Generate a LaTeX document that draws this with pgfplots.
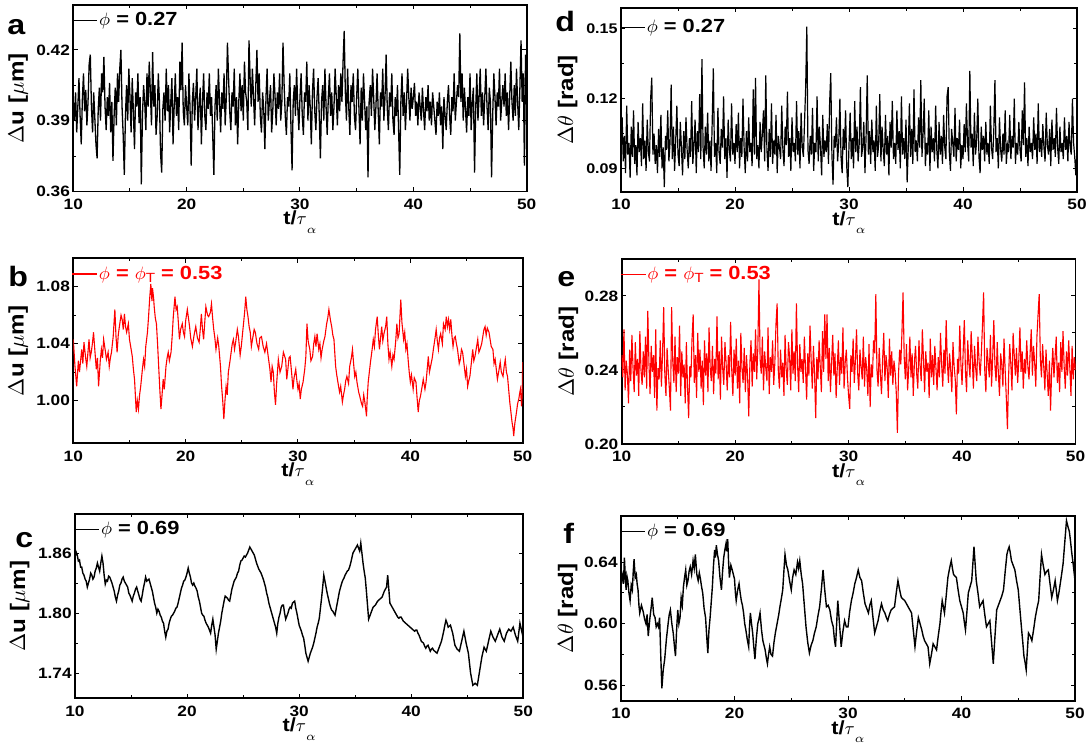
\documentclass[border=0pt]{standalone}
\usepackage{pgfplots}
\pgfplotsset{compat=1.18}
\usepackage{pgfplotstable}
\usepackage{fontspec}
\setmainfont{Liberation Sans}[FakeStretch=1.15]
\newcommand\ticksz{\fontsize{7.5}{8}\selectfont\bfseries}
\newcommand\labsz{\fontsize{9.5}{10}\selectfont\bfseries}
\newcommand\ylabsz{\fontsize{10.5}{11}\selectfont\bfseries}
\newcommand\legsz{\fontsize{9.5}{10}\selectfont\bfseries}
\newcommand\letsz{\fontsize{14}{14}\selectfont\bfseries}
\pgfplotsset{
  panel/.style={
    scale only axis, anchor=south west, clip mode=individual,
    xmin=10, xmax=50,
    xtick={10,20,30,40,50}, xticklabels={10,20,30,40,50},
    minor x tick num=1, minor y tick num=1,
    tick align=inside,
    major tick length=2.2pt, minor tick length=1.6pt,
    every tick/.append style={black, line width=0.5pt},
    axis line style={line width=0.9pt},
    tick label style={font=\ticksz},
    xticklabel style={inner sep=0pt, anchor=north, yshift=-3.5pt},
    yticklabel style={inner sep=0pt, anchor=east, xshift=-1.5pt},
    every axis x label/.style={at={([yshift=-9.6pt]axis description cs:0.5,0)}, anchor=north, inner sep=0pt, font=\labsz},
    every axis y label/.style={at={([xshift=-22.5pt]axis description cs:0,0.5)}, rotate=90, anchor=south, inner sep=0pt, font=\ylabsz},
    xlabel={t/$\tau$\raisebox{-4.2pt}{\fontsize{6}{6}\selectfont$\alpha$}},
    legend image code/.code={\draw[##1] (0pt,0pt) -- (12.5pt,0pt);},
    legend style={at={([yshift=-3.2pt,xshift=-0.8pt]axis description cs:0,1)}, anchor=north west, draw=none, fill=none, inner sep=0pt, outer sep=0pt, font=\legsz, nodes={inner sep=0.6pt}},
    legend cell align=left,
  },
}
\pgfplotstableread{
y
0.398
0.390
0.402
0.385
0.396
0.408
0.392
0.380
0.399
0.410
0.394
0.403
0.388
0.398
0.414
0.418
0.396
0.385
0.402
0.391
0.380
0.374
0.395
0.404
0.390
0.410
0.402
0.417
0.396
0.386
0.400
0.392
0.406
0.385
0.398
0.373
0.392
0.404
0.388
0.410
0.398
0.412
0.420
0.396
0.384
0.367
0.392
0.405
0.390
0.412
0.400
0.385
0.408
0.394
0.378
0.402
0.396
0.410
0.389
0.400
0.363
0.392
0.405
0.398
0.386
0.410
0.396
0.415
0.402
0.388
0.419
0.396
0.405
0.384
0.392
0.410
0.398
0.376
0.368
0.395
0.402
0.390
0.412
0.394
0.405
0.385
0.398
0.408
0.380
0.396
0.410
0.392
0.400
0.386
0.415
0.403
0.423
0.394
0.388
0.405
0.396
0.388
0.410
0.395
0.371
0.398
0.406
0.390
0.400
0.412
0.386
0.396
0.404
0.380
0.398
0.410
0.392
0.386
0.402
0.395
0.410
0.392
0.400
0.384
0.367
0.396
0.405
0.390
0.412
0.398
0.385
0.402
0.395
0.410
0.388
0.400
0.423
0.408
0.394
0.386
0.402
0.396
0.412
0.388
0.400
0.380
0.398
0.410
0.394
0.405
0.390
0.415
0.402
0.398
0.386
0.424
0.408
0.396
0.412
0.400
0.388
0.405
0.420
0.398
0.410
0.392
0.385
0.402
0.395
0.378
0.400
0.412
0.390
0.398
0.405
0.385
0.394
0.410
0.400
0.388
0.402
0.395
0.410
0.390
0.398
0.423
0.405
0.392
0.384
0.400
0.396
0.410
0.388
0.369
0.398
0.405
0.392
0.412
0.396
0.386
0.400
0.410
0.392
0.384
0.402
0.398
0.415
0.390
0.405
0.396
0.380
0.402
0.412
0.394
0.386
0.400
0.408
0.392
0.374
0.398
0.405
0.390
0.412
0.396
0.384
0.400
0.410
0.392
0.402
0.386
0.396
0.412
0.400
0.388
0.405
0.394
0.410
0.398
0.415
0.428
0.402
0.390
0.412
0.396
0.384
0.405
0.398
0.410
0.392
0.386
0.400
0.412
0.395
0.380
0.404
0.390
0.410
0.398
0.386
0.396
0.366
0.398
0.405
0.392
0.412
0.400
0.386
0.396
0.410
0.394
0.380
0.402
0.396
0.412
0.390
0.400
0.418
0.395
0.386
0.402
0.396
0.410
0.390
0.384
0.400
0.392
0.405
0.386
0.367
0.398
0.410
0.392
0.402
0.386
0.398
0.412
0.400
0.390
0.404
0.395
0.400
0.406
0.392
0.398
0.388
0.402
0.396
0.390
0.404
0.394
0.386
0.400
0.394
0.405
0.390
0.398
0.388
0.402
0.396
0.390
0.384
0.398
0.392
0.402
0.388
0.396
0.378
0.400
0.392
0.386
0.398
0.405
0.392
0.384
0.400
0.394
0.410
0.390
0.398
0.405
0.400
0.427
0.398
0.410
0.390
0.404
0.395
0.385
0.400
0.392
0.410
0.386
0.398
0.404
0.368
0.395
0.410
0.390
0.400
0.412
0.392
0.402
0.388
0.400
0.412
0.396
0.386
0.404
0.398
0.366
0.392
0.410
0.400
0.388
0.402
0.396
0.412
0.390
0.398
0.405
0.396
0.410
0.392
0.402
0.386
0.400
0.415
0.398
0.390
0.405
0.392
0.412
0.398
0.386
0.404
0.424
0.398
0.410
0.371
0.418
0.396
}\dataA
\pgfplotstableread{
y
0.098
0.112
0.093
0.104
0.088
0.117
0.096
0.101
0.086
0.108
0.095
0.115
0.092
0.100
0.087
0.110
0.097
0.103
0.091
0.118
0.094
0.102
0.089
0.111
0.097
0.093
0.120
0.129
0.096
0.105
0.092
0.100
0.088
0.107
0.095
0.113
0.090
0.099
0.082
0.104
0.098
0.115
0.093
0.101
0.126
0.094
0.108
0.089
0.102
0.117
0.096
0.091
0.110
0.099
0.087
0.106
0.094
0.112
0.098
0.090
0.103
0.095
0.119
0.092
0.100
0.111
0.088
0.106
0.097
0.122
0.094
0.137
0.099
0.090
0.108
0.096
0.114
0.093
0.102
0.089
0.110
0.133
0.095
0.101
0.088
0.116
0.097
0.092
0.107
0.099
0.121
0.094
0.103
0.086
0.111
0.098
0.093
0.118
0.096
0.101
0.092
0.109
0.097
0.114
0.090
0.103
0.095
0.120
0.099
0.088
0.106
0.093
0.112
0.097
0.101
0.091
0.124
0.096
0.129
0.094
0.100
0.090
0.110
0.097
0.105
0.115
0.093
0.130
0.098
0.089
0.107
0.095
0.118
0.092
0.102
0.096
0.113
0.088
0.104
0.099
0.094
0.117
0.098
0.091
0.108
0.100
0.123
0.095
0.103
0.089
0.112
0.097
0.101
0.093
0.119
0.096
0.106
0.090
0.114
0.099
0.095
0.110
0.125
0.151
0.098
0.092
0.104
0.096
0.116
0.089
0.101
0.097
0.121
0.093
0.108
0.099
0.087
0.113
0.095
0.102
0.097
0.109
0.092
0.118
0.131
0.096
0.083
0.104
0.099
0.112
0.093
0.101
0.120
0.095
0.088
0.107
0.098
0.115
0.091
0.082
0.100
0.114
0.094
0.103
0.090
0.119
0.097
0.108
0.093
0.101
0.125
0.095
0.099
0.110
0.088
0.104
0.130
0.096
0.106
0.092
0.111
0.097
0.102
0.089
0.117
0.095
0.100
0.122
0.093
0.108
0.098
0.091
0.113
0.096
0.104
0.087
0.110
0.099
0.119
0.094
0.101
0.092
0.115
0.098
0.106
0.090
0.121
0.096
0.103
0.094
0.111
0.084
0.099
0.118
0.095
0.107
0.092
0.124
0.097
0.102
0.093
0.112
0.099
0.128
0.095
0.105
0.120
0.091
0.101
0.096
0.115
0.089
0.108
0.097
0.103
0.093
0.117
0.098
0.090
0.110
0.096
0.104
0.092
0.113
0.099
0.094
0.121
0.125
0.097
0.089
0.107
0.101
0.095
0.116
0.093
0.103
0.098
0.111
0.090
0.100
0.094
0.109
0.097
0.118
0.101
0.093
0.132
0.099
0.105
0.091
0.114
0.096
0.102
0.120
0.095
0.088
0.108
0.098
0.104
0.093
0.110
0.096
0.101
0.092
0.117
0.099
0.094
0.106
0.128
0.097
0.103
0.090
0.112
0.098
0.093
0.105
0.096
0.115
0.092
0.100
0.097
0.113
0.094
0.104
0.099
0.120
0.092
0.101
0.096
0.110
0.098
0.093
0.115
0.100
0.127
0.095
0.103
0.091
0.108
0.097
0.101
0.094
0.112
0.098
0.105
0.092
0.118
0.097
0.103
0.095
0.109
0.099
0.093
0.114
0.100
0.096
0.107
0.091
0.111
0.098
0.103
0.095
0.116
0.099
0.092
0.108
0.097
0.101
0.094
0.112
0.098
0.104
0.093
0.110
0.099
0.096
0.120
0.101
0.095
0.087
0.098
}\dataD
\pgfplotstableread{
y
0.248
0.236
0.262
0.229
0.245
0.238
0.222
0.251
0.234
0.259
0.241
0.228
0.255
0.237
0.246
0.226
0.261
0.240
0.232
0.250
0.236
0.258
0.230
0.272
0.244
0.227
0.253
0.239
0.248
0.225
0.262
0.218
0.241
0.235
0.256
0.231
0.249
0.274
0.238
0.226
0.252
0.240
0.230
0.218
0.274
0.245
0.233
0.258
0.228
0.247
0.238
0.264
0.226
0.250
0.236
0.243
0.222
0.255
0.231
0.214
0.242
0.236
0.257
0.270
0.233
0.248
0.225
0.260
0.239
0.251
0.230
0.245
0.221
0.256
0.237
0.249
0.228
0.263
0.241
0.234
0.253
0.227
0.246
0.238
0.269
0.235
0.250
0.224
0.258
0.241
0.232
0.255
0.244
0.229
0.248
0.236
0.266
0.240
0.226
0.251
0.237
0.257
0.230
0.245
0.222
0.260
0.241
0.233
0.252
0.228
0.248
0.236
0.215
0.244
0.256
0.231
0.249
0.239
0.262
0.235
0.252
0.289
0.246
0.238
0.258
0.229
0.250
0.241
0.234
0.263
0.227
0.247
0.239
0.256
0.232
0.244
0.265
0.276
0.240
0.230
0.251
0.236
0.244
0.226
0.259
0.240
0.232
0.255
0.247
0.229
0.262
0.238
0.250
0.234
0.276
0.243
0.228
0.254
0.239
0.246
0.233
0.258
0.241
0.224
0.249
0.237
0.264
0.245
0.230
0.253
0.238
0.214
0.247
0.235
0.256
0.242
0.228
0.261
0.239
0.270
0.246
0.270
0.234
0.252
0.228
0.244
0.259
0.237
0.249
0.225
0.241
0.256
0.232
0.247
0.238
0.263
0.230
0.244
0.251
0.236
0.226
0.219
0.248
0.239
0.257
0.233
0.245
0.262
0.238
0.229
0.251
0.242
0.235
0.258
0.231
0.247
0.240
0.226
0.254
0.220
0.243
0.236
0.256
0.249
0.281
0.240
0.231
0.252
0.238
0.227
0.246
0.260
0.234
0.248
0.241
0.225
0.257
0.237
0.250
0.232
0.245
0.239
0.228
0.206
0.238
0.251
0.243
0.260
0.282
0.247
0.235
0.254
0.229
0.241
0.258
0.236
0.249
0.226
0.244
0.253
0.238
0.230
0.256
0.242
0.234
0.262
0.246
0.228
0.250
0.239
0.244
0.225
0.257
0.236
0.248
0.232
0.253
0.241
0.229
0.247
0.236
0.260
0.243
0.231
0.251
0.238
0.267
0.245
0.233
0.249
0.240
0.228
0.255
0.242
0.235
0.216
0.246
0.238
0.264
0.243
0.232
0.250
0.267
0.239
0.228
0.256
0.244
0.236
0.261
0.247
0.230
0.253
0.241
0.234
0.258
0.245
0.237
0.249
0.264
0.282
0.240
0.228
0.252
0.244
0.236
0.259
0.231
0.247
0.267
0.242
0.234
0.255
0.238
0.226
0.249
0.243
0.231
0.257
0.240
0.225
0.208
0.236
0.254
0.243
0.229
0.260
0.248
0.237
0.252
0.233
0.245
0.263
0.239
0.250
0.230
0.246
0.238
0.256
0.242
0.235
0.249
0.262
0.237
0.253
0.244
0.231
0.258
0.270
0.281
0.246
0.236
0.254
0.242
0.229
0.251
0.238
0.226
0.245
0.218
0.240
0.252
0.236
0.247
0.258
0.233
0.244
0.228
0.255
0.239
0.261
0.242
0.230
0.250
0.237
0.256
0.241
0.226
0.253
0.235
0.247
0.240
}\dataE
\begin{document}
\begin{tikzpicture}
\useasboundingbox (0,0) rectangle (543.5pt,375pt);
% ---------- a ----------
\begin{axis}[panel, at={(36.65pt,279.25pt)}, width=226.7pt, height=93.25pt,
  ymin=0.36, ymax=0.439, ytick={0.36,0.39,0.42}, yticklabels={0.36,0.39,0.42},
  ylabel={$\Delta$u [$\mu$m]}]
\addplot[black, line width=0.65pt] table[x expr=10+0.1*\coordindex, y=y] {\dataA};
\addlegendentry{$\phi$ = 0.27}
\node[anchor=base west, inner sep=0pt, font=\letsz] at ([xshift=-33.15pt,yshift=-15pt]axis description cs:0,1) {a};
\end{axis}
% ---------- b ----------
\begin{axis}[panel, at={(36.65pt,153.35pt)}, width=224.7pt, height=92.5pt,
  ymin=0.97, ymax=1.10, ytick={1.00,1.04,1.08}, yticklabels={1.00,1.04,1.08},
  ylabel={$\Delta$u [$\mu$m]}, legend style={text=red}]
\addplot[red, line width=0.55pt] coordinates {
(10.0,1.043) (10.15,1.024) (10.3,1.010) (10.45,1.028) (10.55,1.020) (10.75,1.036) (10.85,1.026) (10.95,1.041) (11.1,1.030) (11.2,1.024) (11.4,1.043) (11.5,1.030) (11.6,1.034) (11.7,1.040) (11.8,1.048) (11.95,1.032) (12.05,1.022) (12.15,1.030) (12.25,1.010) (12.4,1.028) (12.5,1.036) (12.6,1.030) (12.7,1.043) (12.85,1.035) (12.95,1.029) (13.1,1.034) (13.2,1.024) (13.3,1.030) (13.4,1.034) (13.55,1.045) (13.7,1.064) (13.8,1.045) (13.9,1.034) (14.0,1.046) (14.1,1.052) (14.25,1.060) (14.35,1.057) (14.45,1.050) (14.55,1.061) (14.65,1.052) (14.75,1.048) (14.9,1.054) (15.0,1.043) (15.15,1.036) (15.25,1.031) (15.35,1.022) (15.45,1.015) (15.55,1.000) (15.6,0.992) (15.7,1.000) (15.8,0.994) (15.9,1.004) (16.0,1.010) (16.15,1.022) (16.25,1.029) (16.35,1.024) (16.45,1.038) (16.6,1.048) (16.7,1.059) (16.8,1.072) (16.9,1.082) (17.0,1.070) (17.05,1.079) (17.15,1.072) (17.2,1.066) (17.3,1.058) (17.4,1.054) (17.5,1.040) (17.6,1.024) (17.7,1.008) (17.8,0.994) (17.9,1.004) (18.0,1.015) (18.1,1.008) (18.25,1.024) (18.35,1.030) (18.45,1.034) (18.55,1.028) (18.7,1.034) (18.8,1.045) (18.9,1.059) (19.05,1.073) (19.15,1.064) (19.25,1.066) (19.35,1.055) (19.45,1.043) (19.55,1.050) (19.7,1.054) (19.8,1.048) (19.9,1.045) (20.0,1.056) (20.15,1.064) (20.25,1.058) (20.35,1.052) (20.45,1.044) (20.6,1.038) (20.75,1.046) (20.9,1.052) (21.05,1.044) (21.2,1.041) (21.3,1.050) (21.4,1.061) (21.5,1.050) (21.6,1.043) (21.7,1.055) (21.8,1.066) (21.95,1.060) (22.05,1.059) (22.2,1.062) (22.3,1.068) (22.4,1.058) (22.5,1.050) (22.6,1.044) (22.7,1.036) (22.85,1.044) (22.95,1.038) (23.1,1.024) (23.2,1.010) (23.3,1.000) (23.4,0.987) (23.5,1.000) (23.6,1.010) (23.7,1.004) (23.8,1.020) (23.95,1.028) (24.05,1.034) (24.15,1.040) (24.25,1.043) (24.35,1.036) (24.45,1.041) (24.6,1.050) (24.7,1.045) (24.85,1.032) (24.95,1.038) (25.05,1.046) (25.15,1.054) (25.25,1.062) (25.35,1.073) (25.45,1.064) (25.55,1.059) (25.65,1.052) (25.75,1.048) (25.85,1.038) (25.95,1.043) (26.1,1.050) (26.2,1.048) (26.35,1.040) (26.5,1.036) (26.6,1.044) (26.75,1.045) (26.9,1.038) (27.05,1.034) (27.2,1.040) (27.35,1.031) (27.5,1.022) (27.6,1.013) (27.7,1.024) (27.8,1.020) (27.9,1.006) (28.0,0.997) (28.1,1.012) (28.25,1.029) (28.4,1.020) (28.55,1.024) (28.7,1.034) (28.9,1.029) (29.0,1.015) (29.1,1.022) (29.2,1.030) (29.3,1.031) (29.45,1.018) (29.55,1.008) (29.65,1.016) (29.8,1.022) (29.9,1.014) (30.0,1.008) (30.1,1.012) (30.2,1.001) (30.3,1.008) (30.45,1.013) (30.6,1.022) (30.7,1.031) (30.8,1.054) (30.9,1.042) (31.05,1.036) (31.15,1.028) (31.3,1.031) (31.4,1.040) (31.5,1.045) (31.6,1.038) (31.7,1.047) (31.85,1.036) (31.95,1.040) (32.05,1.030) (32.15,1.036) (32.3,1.042) (32.4,1.045) (32.55,1.054) (32.65,1.058) (32.75,1.064) (32.9,1.056) (33.0,1.052) (33.1,1.046) (33.2,1.043) (33.35,1.024) (33.45,1.018) (33.55,1.013) (33.7,1.006) (33.8,1.010) (33.95,0.999) (34.05,1.004) (34.15,1.008) (34.25,1.014) (34.35,1.017) (34.5,1.012) (34.6,1.024) (34.75,1.030) (34.85,1.036) (34.95,1.026) (35.05,1.017) (35.15,1.020) (35.25,1.013) (35.4,1.006) (35.5,1.003) (35.65,0.998) (35.75,0.996) (35.85,1.004) (35.95,0.999) (36.1,0.989) (36.15,1.000) (36.25,1.013) (36.35,1.020) (36.45,1.027) (36.6,1.036) (36.7,1.043) (36.8,1.038) (36.9,1.050) (37.05,1.059) (37.15,1.046) (37.25,1.036) (37.35,1.044) (37.45,1.052) (37.55,1.042) (37.65,1.047) (37.8,1.052) (37.9,1.059) (38.0,1.040) (38.1,1.029) (38.2,1.034) (38.35,1.024) (38.45,1.032) (38.55,1.029) (38.7,1.042) (38.8,1.054) (38.9,1.044) (39.0,1.047) (39.15,1.071) (39.25,1.055) (39.4,1.043) (39.5,1.048) (39.6,1.036) (39.7,1.040) (39.8,1.029) (39.9,1.020) (40.0,1.013) (40.1,1.018) (40.25,1.008) (40.35,1.016) (40.5,1.013) (40.6,1.002) (40.7,0.992) (40.8,1.000) (40.9,1.003) (41.05,1.010) (41.15,1.015) (41.3,1.008) (41.4,1.013) (41.5,1.022) (41.6,1.031) (41.7,1.020) (41.8,1.024) (41.95,1.030) (42.05,1.036) (42.2,1.044) (42.3,1.050) (42.4,1.042) (42.5,1.036) (42.6,1.044) (42.7,1.047) (42.85,1.040) (42.95,1.054) (43.1,1.050) (43.2,1.059) (43.3,1.052) (43.4,1.057) (43.5,1.050) (43.6,1.057) (43.7,1.046) (43.8,1.038) (43.9,1.044) (44.0,1.045) (44.1,1.040) (44.2,1.036) (44.35,1.026) (44.45,1.029) (44.55,1.036) (44.65,1.034) (44.8,1.024) (44.9,1.017) (45.0,1.022) (45.1,1.010) (45.2,1.014) (45.3,1.017) (45.45,1.028) (45.55,1.036) (45.65,1.028) (45.75,1.031) (45.9,1.038) (46.0,1.043) (46.1,1.034) (46.2,1.036) (46.35,1.040) (46.45,1.045) (46.55,1.050) (46.65,1.052) (46.75,1.046) (46.85,1.051) (47.0,1.048) (47.1,1.043) (47.2,1.038) (47.35,1.036) (47.45,1.026) (47.55,1.029) (47.65,1.022) (47.75,1.015) (47.9,1.022) (48.0,1.027) (48.1,1.020) (48.25,1.017) (48.35,1.024) (48.45,1.029) (48.55,1.020) (48.65,1.017) (48.75,1.008) (48.85,0.999) (48.95,0.992) (49.05,0.985) (49.15,0.980) (49.2,0.975) (49.3,0.984) (49.45,0.992) (49.55,0.998) (49.65,1.001) (49.75,1.006) (49.8,1.008) (49.9,0.996) (49.95,1.004) (50.0,1.027)};
\addlegendentry{$\phi$ = $\phi_{\mathrm{T}}$ = 0.53}
\node[anchor=base west, inner sep=0pt, font=\letsz] at ([xshift=-32.65pt,yshift=-14.35pt]axis description cs:0,1) {b};
\end{axis}
% ---------- c ----------
\begin{axis}[panel, at={(37.5pt,25.85pt)}, width=224.15pt, height=92.15pt,
  ymin=1.715, ymax=1.899, ytick={1.74,1.80,1.86}, yticklabels={1.74,1.80,1.86},
  ylabel={$\Delta$u [$\mu$m]}]
\addplot[black, line width=0.7pt] coordinates {
(10.0,1.856) (10.1,1.861) (10.2,1.858) (10.3,1.852) (10.4,1.853) (10.5,1.846) (10.6,1.846) (10.7,1.840) (10.8,1.838) (10.9,1.834) (11.0,1.832) (11.1,1.826) (11.2,1.830) (11.3,1.834) (11.4,1.840) (11.5,1.838) (11.6,1.834) (11.7,1.836) (11.8,1.842) (11.9,1.845) (12.0,1.850) (12.1,1.846) (12.2,1.842) (12.3,1.850) (12.4,1.857) (12.5,1.850) (12.6,1.838) (12.7,1.829) (12.8,1.833) (12.9,1.832) (13.0,1.837) (13.1,1.836) (13.2,1.833) (13.3,1.830) (13.4,1.826) (13.5,1.822) (13.6,1.816) (13.7,1.812) (13.8,1.818) (13.9,1.822) (14.0,1.828) (14.1,1.830) (14.2,1.834) (14.3,1.836) (14.4,1.832) (14.5,1.830) (14.6,1.828) (14.7,1.826) (14.8,1.820) (14.9,1.818) (15.0,1.815) (15.1,1.812) (15.2,1.817) (15.3,1.820) (15.4,1.824) (15.5,1.826) (15.6,1.822) (15.7,1.818) (15.8,1.814) (15.9,1.812) (16.0,1.818) (16.1,1.825) (16.2,1.830) (16.3,1.836) (16.4,1.832) (16.5,1.833) (16.6,1.834) (16.7,1.830) (16.8,1.826) (16.9,1.822) (17.0,1.816) (17.1,1.810) (17.2,1.806) (17.3,1.800) (17.4,1.804) (17.5,1.802) (17.6,1.798) (17.7,1.796) (17.8,1.792) (17.9,1.790) (18.0,1.782) (18.1,1.776) (18.2,1.782) (18.3,1.784) (18.4,1.790) (18.5,1.794) (18.6,1.797) (18.7,1.798) (18.8,1.800) (18.9,1.802) (19.0,1.805) (19.1,1.806) (19.2,1.810) (19.3,1.815) (19.4,1.820) (19.5,1.825) (19.6,1.828) (19.7,1.832) (19.8,1.833) (19.9,1.836) (20.0,1.840) (20.1,1.845) (20.2,1.840) (20.3,1.836) (20.4,1.830) (20.5,1.828) (20.6,1.830) (20.7,1.827) (20.8,1.825) (20.9,1.822) (21.0,1.816) (21.1,1.812) (21.2,1.806) (21.3,1.800) (21.4,1.798) (21.5,1.797) (21.6,1.793) (21.7,1.790) (21.8,1.788) (21.9,1.786) (22.0,1.783) (22.1,1.780) (22.2,1.788) (22.3,1.794) (22.4,1.786) (22.5,1.778) (22.6,1.764) (22.7,1.772) (22.8,1.780) (22.9,1.786) (23.0,1.792) (23.1,1.800) (23.2,1.806) (23.3,1.812) (23.4,1.817) (23.5,1.816) (23.6,1.815) (23.7,1.813) (23.8,1.812) (23.9,1.818) (24.0,1.824) (24.1,1.828) (24.2,1.832) (24.3,1.834) (24.4,1.836) (24.5,1.840) (24.6,1.842) (24.7,1.848) (24.8,1.852) (24.9,1.853) (25.0,1.855) (25.1,1.857) (25.2,1.856) (25.3,1.858) (25.4,1.860) (25.5,1.863) (25.6,1.866) (25.7,1.864) (25.8,1.862) (25.9,1.860) (26.0,1.858) (26.1,1.854) (26.2,1.850) (26.3,1.847) (26.4,1.844) (26.5,1.842) (26.6,1.840) (26.7,1.837) (26.8,1.834) (26.9,1.830) (27.0,1.826) (27.1,1.820) (27.2,1.816) (27.3,1.810) (27.4,1.806) (27.5,1.802) (27.6,1.798) (27.7,1.794) (27.8,1.790) (27.9,1.786) (28.0,1.780) (28.1,1.790) (28.2,1.796) (28.3,1.800) (28.4,1.806) (28.5,1.808) (28.6,1.808) (28.7,1.800) (28.8,1.794) (28.9,1.797) (29.0,1.800) (29.1,1.804) (29.2,1.806) (29.3,1.805) (29.4,1.810) (29.5,1.811) (29.6,1.812) (29.7,1.805) (29.8,1.800) (29.9,1.794) (30.0,1.788) (30.1,1.785) (30.2,1.782) (30.3,1.778) (30.4,1.775) (30.5,1.768) (30.6,1.760) (30.7,1.756) (30.8,1.752) (30.9,1.756) (31.0,1.760) (31.1,1.763) (31.2,1.766) (31.3,1.770) (31.4,1.775) (31.5,1.780) (31.6,1.786) (31.7,1.790) (31.8,1.795) (31.9,1.805) (32.0,1.815) (32.1,1.826) (32.2,1.838) (32.3,1.832) (32.4,1.826) (32.5,1.820) (32.6,1.815) (32.7,1.810) (32.8,1.806) (32.9,1.803) (33.0,1.802) (33.1,1.800) (33.2,1.798) (33.3,1.804) (33.4,1.810) (33.5,1.816) (33.6,1.822) (33.7,1.826) (33.8,1.830) (33.9,1.833) (34.0,1.835) (34.1,1.838) (34.2,1.840) (34.3,1.842) (34.4,1.843) (34.5,1.846) (34.6,1.850) (34.7,1.855) (34.8,1.860) (34.9,1.862) (35.0,1.864) (35.1,1.866) (35.2,1.868) (35.3,1.865) (35.4,1.862) (35.5,1.870) (35.6,1.860) (35.7,1.850) (35.8,1.842) (35.9,1.835) (36.0,1.822) (36.1,1.808) (36.2,1.794) (36.3,1.797) (36.4,1.800) (36.5,1.803) (36.6,1.806) (36.7,1.807) (36.8,1.808) (36.9,1.810) (37.0,1.812) (37.1,1.813) (37.2,1.814) (37.3,1.815) (37.4,1.816) (37.5,1.819) (37.6,1.822) (37.7,1.824) (37.8,1.826) (37.9,1.838) (38.0,1.824) (38.1,1.810) (38.2,1.808) (38.3,1.806) (38.4,1.804) (38.5,1.802) (38.6,1.800) (38.7,1.798) (38.8,1.796) (38.9,1.795) (39.0,1.796) (39.1,1.796) (39.2,1.794) (39.3,1.792) (39.4,1.791) (39.5,1.790) (39.6,1.789) (39.7,1.788) (39.8,1.787) (39.9,1.786) (40.0,1.785) (40.1,1.784) (40.2,1.783) (40.3,1.782) (40.4,1.783) (40.5,1.783) (40.6,1.780) (40.7,1.778) (40.8,1.775) (40.9,1.772) (41.0,1.771) (41.1,1.770) (41.2,1.767) (41.3,1.765) (41.4,1.767) (41.5,1.768) (41.6,1.765) (41.7,1.762) (41.8,1.764) (41.9,1.765) (42.0,1.763) (42.1,1.762) (42.2,1.761) (42.3,1.760) (42.4,1.763) (42.5,1.766) (42.6,1.769) (42.7,1.772) (42.8,1.777) (42.9,1.782) (43.0,1.788) (43.1,1.793) (43.2,1.790) (43.3,1.786) (43.4,1.787) (43.5,1.788) (43.6,1.784) (43.7,1.780) (43.8,1.774) (43.9,1.768) (44.0,1.766) (44.1,1.764) (44.2,1.763) (44.3,1.762) (44.4,1.767) (44.5,1.772) (44.6,1.777) (44.7,1.782) (44.8,1.776) (44.9,1.770) (45.0,1.765) (45.1,1.760) (45.2,1.750) (45.3,1.740) (45.4,1.734) (45.5,1.728) (45.6,1.729) (45.7,1.730) (45.8,1.729) (45.9,1.728) (46.0,1.735) (46.1,1.742) (46.2,1.749) (46.3,1.756) (46.4,1.761) (46.5,1.766) (46.6,1.764) (46.7,1.762) (46.8,1.767) (46.9,1.772) (47.0,1.777) (47.1,1.782) (47.2,1.779) (47.3,1.776) (47.4,1.774) (47.5,1.772) (47.6,1.775) (47.7,1.778) (47.8,1.781) (47.9,1.784) (48.0,1.780) (48.1,1.776) (48.2,1.774) (48.3,1.772) (48.4,1.776) (48.5,1.780) (48.6,1.782) (48.7,1.784) (48.8,1.783) (48.9,1.782) (49.0,1.784) (49.1,1.786) (49.2,1.782) (49.3,1.778) (49.4,1.775) (49.5,1.772) (49.6,1.781) (49.7,1.790) (49.8,1.785) (49.9,1.780) (50.0,1.784)};
\addlegendentry{$\phi$ = 0.69}
\node[anchor=base west, inner sep=0pt, font=\letsz] at ([xshift=-30pt,yshift=-16.5pt]axis description cs:0,1) {c};
\end{axis}
% ---------- d ----------
\begin{axis}[panel, at={(310.5pt,279.15pt)}, width=228pt, height=91.85pt,
  ymin=0.08, ymax=0.159, ytick={0.09,0.12,0.15}, yticklabels={0.09,0.12,0.15},
  yticklabel style={font=\fontsize{7}{7}\selectfont\bfseries},
  ylabel={$\Delta\theta$ [rad]}, every axis y label/.append style={at={([xshift=-21.5pt]axis description cs:0,0.5)}},
  legend style={at={([yshift=-4.9pt,xshift=-0.8pt]axis description cs:0,1)}}]
\addplot[black, line width=0.6pt] table[x expr=10+0.1*\coordindex, y=y] {\dataD};
\addlegendentry{$\phi$ = 0.27}
\node[anchor=base west, inner sep=0pt, font=\letsz] at ([xshift=-33pt,yshift=-11.85pt]axis description cs:0,1) {d};
\end{axis}
% ---------- e ----------
\begin{axis}[panel, at={(310.85pt,153pt)}, width=226.9pt, height=92.5pt,
  ymin=0.20, ymax=0.30, ytick={0.20,0.24,0.28}, yticklabels={0.20,0.24,0.28},
  ylabel={$\Delta\theta$ [rad]}, every axis y label/.append style={at={([xshift=-21.5pt]axis description cs:0,0.5)}},
  legend style={text=red}]
\addplot[red, line width=0.55pt] table[x expr=10+0.1*\coordindex, y=y] {\dataE};
\addlegendentry{$\phi$ = $\phi_{\mathrm{T}}$ = 0.53}
\node[anchor=base west, inner sep=0pt, font=\letsz] at ([xshift=-32.35pt,yshift=-14pt]axis description cs:0,1) {e};
\end{axis}
% ---------- f ----------
\begin{axis}[panel, at={(310.5pt,24.65pt)}, width=227pt, height=92.35pt,
  ymin=0.55, ymax=0.67, ytick={0.56,0.60,0.64}, yticklabels={0.56,0.60,0.64},
  ylabel={$\Delta\theta$ [rad]}, every axis y label/.append style={at={([xshift=-21.5pt]axis description cs:0,0.5)}}]
\addplot[black, line width=0.7pt] coordinates {
(10.0,0.624) (10.08,0.630) (10.15,0.632) (10.22,0.626) (10.3,0.643) (10.38,0.630) (10.45,0.622) (10.52,0.631) (10.6,0.628) (10.7,0.620) (10.8,0.615) (10.9,0.625) (11.0,0.622) (11.08,0.634) (11.15,0.642) (11.25,0.630) (11.35,0.632) (11.42,0.626) (11.5,0.622) (11.58,0.612) (11.65,0.607) (11.8,0.612) (11.95,0.608) (12.08,0.603) (12.2,0.600) (12.3,0.606) (12.4,0.592) (12.55,0.604) (12.65,0.610) (12.75,0.617) (12.88,0.606) (13.0,0.604) (13.1,0.598) (13.2,0.600) (13.3,0.598) (13.4,0.604) (13.5,0.580) (13.6,0.558) (13.72,0.570) (13.85,0.577) (14.0,0.590) (14.15,0.600) (14.25,0.606) (14.35,0.609) (14.48,0.600) (14.6,0.594) (14.7,0.586) (14.8,0.579) (14.9,0.596) (15.0,0.609) (15.1,0.600) (15.2,0.604) (15.3,0.617) (15.4,0.612) (15.5,0.624) (15.6,0.630) (15.7,0.635) (15.8,0.625) (15.9,0.628) (16.0,0.634) (16.1,0.637) (16.22,0.632) (16.35,0.641) (16.45,0.636) (16.55,0.645) (16.68,0.632) (16.8,0.628) (16.9,0.633) (17.0,0.629) (17.1,0.624) (17.2,0.620) (17.32,0.610) (17.45,0.604) (17.55,0.592) (17.65,0.581) (17.75,0.596) (17.85,0.604) (17.95,0.614) (18.05,0.624) (18.15,0.638) (18.25,0.648) (18.32,0.643) (18.4,0.651) (18.5,0.645) (18.6,0.641) (18.72,0.630) (18.85,0.622) (18.95,0.634) (19.05,0.643) (19.15,0.648) (19.25,0.652) (19.32,0.647) (19.4,0.655) (19.48,0.640) (19.55,0.630) (19.68,0.638) (19.8,0.635) (19.9,0.632) (20.0,0.629) (20.08,0.620) (20.15,0.615) (20.28,0.622) (20.4,0.626) (20.5,0.620) (20.6,0.615) (20.7,0.612) (20.8,0.607) (20.9,0.600) (21.0,0.596) (21.12,0.590) (21.25,0.585) (21.32,0.598) (21.4,0.607) (21.5,0.600) (21.6,0.594) (21.7,0.585) (21.8,0.577) (21.92,0.590) (22.05,0.600) (22.15,0.603) (22.25,0.607) (22.38,0.596) (22.5,0.589) (22.6,0.586) (22.7,0.583) (22.8,0.578) (22.9,0.574) (23.0,0.580) (23.1,0.585) (23.22,0.580) (23.35,0.579) (23.48,0.588) (23.6,0.594) (23.7,0.598) (23.8,0.602) (23.9,0.606) (24.0,0.611) (24.12,0.616) (24.25,0.622) (24.35,0.634) (24.45,0.645) (24.58,0.638) (24.7,0.635) (24.85,0.628) (25.0,0.622) (25.12,0.630) (25.25,0.635) (25.4,0.632) (25.55,0.640) (25.65,0.636) (25.75,0.641) (25.88,0.632) (26.0,0.626) (26.15,0.612) (26.3,0.598) (26.45,0.588) (26.6,0.581) (26.75,0.586) (26.9,0.589) (27.05,0.594) (27.2,0.598) (27.35,0.605) (27.5,0.611) (27.65,0.622) (27.8,0.635) (27.95,0.622) (28.1,0.611) (28.25,0.612) (28.4,0.609) (28.55,0.602) (28.7,0.598) (28.8,0.590) (28.9,0.585) (29.0,0.600) (29.1,0.615) (29.25,0.600) (29.4,0.585) (29.55,0.595) (29.7,0.602) (29.85,0.598) (30.0,0.598) (30.15,0.608) (30.3,0.615) (30.45,0.620) (30.6,0.626) (30.75,0.630) (30.9,0.635) (31.05,0.630) (31.2,0.628) (31.35,0.620) (31.5,0.613) (31.65,0.610) (31.8,0.607) (31.92,0.612) (32.05,0.615) (32.2,0.604) (32.35,0.594) (32.5,0.598) (32.65,0.602) (32.8,0.608) (32.95,0.613) (33.1,0.609) (33.25,0.607) (33.38,0.604) (33.5,0.602) (33.65,0.606) (33.8,0.609) (33.95,0.610) (34.1,0.611) (34.25,0.620) (34.4,0.628) (34.55,0.622) (34.7,0.617) (34.85,0.616) (35.0,0.615) (35.15,0.613) (35.3,0.611) (35.45,0.609) (35.6,0.607) (35.75,0.596) (35.9,0.585) (36.05,0.595) (36.2,0.604) (36.35,0.600) (36.5,0.596) (36.62,0.592) (36.75,0.589) (36.9,0.587) (37.05,0.585) (37.12,0.580) (37.2,0.574) (37.35,0.580) (37.5,0.587) (37.65,0.585) (37.8,0.583) (37.95,0.592) (38.1,0.600) (38.2,0.608) (38.3,0.615) (38.4,0.611) (38.5,0.607) (38.65,0.618) (38.8,0.630) (38.95,0.636) (39.1,0.641) (39.2,0.636) (39.3,0.632) (39.42,0.631) (39.55,0.630) (39.7,0.622) (39.85,0.615) (40.0,0.611) (40.15,0.607) (40.25,0.601) (40.35,0.596) (40.48,0.608) (40.6,0.620) (40.75,0.624) (40.9,0.628) (41.0,0.639) (41.1,0.650) (41.2,0.639) (41.3,0.628) (41.45,0.620) (41.6,0.611) (41.75,0.613) (41.9,0.615) (42.05,0.606) (42.2,0.598) (42.35,0.600) (42.5,0.602) (42.65,0.588) (42.8,0.574) (42.95,0.592) (43.1,0.609) (43.25,0.612) (43.4,0.615) (43.55,0.618) (43.7,0.622) (43.85,0.634) (44.0,0.645) (44.1,0.648) (44.2,0.650) (44.3,0.646) (44.4,0.641) (44.55,0.638) (44.7,0.635) (44.85,0.628) (45.0,0.622) (45.15,0.609) (45.3,0.596) (45.4,0.588) (45.5,0.579) (45.6,0.575) (45.7,0.570) (45.8,0.582) (45.9,0.594) (46.05,0.592) (46.2,0.589) (46.35,0.596) (46.5,0.604) (46.65,0.610) (46.8,0.615) (46.92,0.630) (47.05,0.645) (47.2,0.638) (47.35,0.632) (47.5,0.634) (47.65,0.635) (47.8,0.626) (47.95,0.617) (48.1,0.622) (48.25,0.628) (48.35,0.622) (48.45,0.615) (48.58,0.620) (48.7,0.626) (48.82,0.632) (48.95,0.639) (49.1,0.653) (49.25,0.667) (49.38,0.663) (49.5,0.660) (49.6,0.654) (49.7,0.647) (49.85,0.638) (50.0,0.628)};
\addlegendentry{$\phi$ = 0.69}
\node[anchor=base west, inner sep=0pt, font=\letsz] at ([xshift=-29pt,yshift=-13.5pt]axis description cs:0,1) {f};
\end{axis}
\end{tikzpicture}
\end{document}
